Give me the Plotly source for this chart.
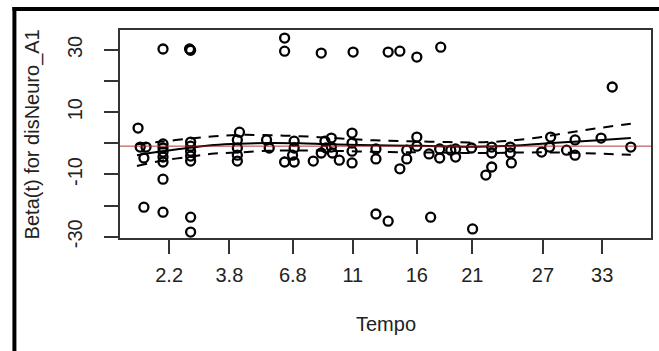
import plotly.graph_objects as go

# ---- data (x on transformed time scale 0..1, y = Beta(t)) ----
pts_x = [0.081, 0.131, 0.133, 0.310, 0.310, 0.379, 0.439, 0.505, 0.527, 0.559, 0.604, 0.927,
         0.045, 0.081, 0.081, 0.133, 0.133, 0.482, 0.505, 0.585, 0.664, 0.527, 0.689, 0.700,
         0.034, 0.038, 0.049, 0.045,
         0.081, 0.081, 0.081, 0.081, 0.081,
         0.133, 0.133, 0.133, 0.133, 0.133,
         0.225, 0.221, 0.221, 0.221, 0.221,
         0.276, 0.281,
         0.328, 0.328, 0.325, 0.310, 0.328,
         0.364, 0.379, 0.386, 0.388,
         0.398, 0.398, 0.400, 0.413,
         0.437, 0.437, 0.437, 0.437,
         0.482, 0.482, 0.540, 0.540, 0.559, 0.559, 0.582,
         0.602, 0.602, 0.623, 0.632, 0.632, 0.662,
         0.700, 0.700, 0.735, 0.735, 0.737,
         0.794, 0.811, 0.809, 0.841, 0.857, 0.857, 0.906, 0.962]
pts_y = [30.3, 30.3, 29.9, 33.8, 29.6, 29.0, 29.3, 29.3, 29.6, 27.7, 30.9, 18.1,
         -20.5, -11.5, -22.1, -23.7, -28.5, -22.7, -25.0, -23.7, -27.5, -8.2, -10.2, -7.6,
         4.9, -1.2, -1.2, -4.7,
         -0.2, -1.5, -2.8, -4.4, -6.0,
         0.4, -0.9, -2.5, -4.1, -5.7,
         3.6, 1.1, -1.5, -3.8, -5.7,
         1.1, -1.5,
         0.7, -1.5, -3.8, -6.0, -6.0,
         -5.7, -3.1, 0.7, -1.5,
         1.7, -1.2, -3.1, -5.4,
         3.3, 0.1, -2.5, -6.3,
         -1.8, -5.0, -2.2, -5.0, 2.0, -0.9, -3.4,
         -1.8, -4.7, -2.2, -1.8, -4.4, -1.5,
         -1.2, -3.1, -1.2, -3.1, -6.3,
         -2.8, 2.0, -1.2, -2.2, 1.1, -3.8, 1.7, -1.2]

curve_x = [0.032, 0.075, 0.131, 0.178, 0.225, 0.281, 0.338, 0.394, 0.450, 0.507,
           0.563, 0.619, 0.657, 0.694, 0.732, 0.788, 0.844, 0.901, 0.962]
fit_y   = [-3.8, -2.6, -1.4, -0.5, -0.1, 0.1, 0.0, -0.3, -0.5, -0.7,
           -0.8, -1.0, -1.1, -1.0, -0.8, -0.2, 0.4, 1.0, 1.7]
upper_y = [-0.3, 0.5, 1.5, 2.3, 2.7, 2.6, 2.3, 1.8, 1.2, 0.8,
           0.6, 0.4, 0.3, 0.4, 0.8, 1.9, 3.4, 4.9, 6.3]
lower_y = [-7.3, -5.7, -4.3, -3.3, -2.9, -2.4, -2.3, -2.4, -2.6, -2.8,
           -2.9, -3.0, -3.1, -3.1, -3.0, -2.9, -3.0, -3.3, -3.7]

coef = -0.9

x_tick_pos = [0.0925, 0.206, 0.3255, 0.4385, 0.559, 0.6636, 0.7964, 0.908]
x_tick_lab = ["2.2", "3.8", "6.8", "11", "16", "21", "27", "33"]
y_tick_pos = [-30, -20, -10, 0, 10, 20, 30]
y_tick_lab = ["-30", "", "-10", "", "10", "", "30"]

FONT = "Liberation Sans, Arial, Helvetica, sans-serif"
TXT = "#222222"

fig = go.Figure()
fig.add_trace(go.Scatter(x=pts_x, y=pts_y, mode="markers",
                         marker=dict(symbol="circle-open", size=9, color="black",
                                     line=dict(width=2.3, color="black")),
                         showlegend=False, hoverinfo="skip"))
fig.add_trace(go.Scatter(x=curve_x, y=fit_y, mode="lines",
                         line=dict(color="black", width=2, shape="spline"),
                         showlegend=False, hoverinfo="skip"))
for band in (upper_y, lower_y):
    fig.add_trace(go.Scatter(x=curve_x, y=band, mode="lines",
                             line=dict(color="black", width=2, dash="10px,8px", shape="spline"),
                             showlegend=False, hoverinfo="skip"))

fig.add_shape(type="line", xref="x domain", yref="y", x0=0, x1=1, y0=coef, y1=coef,
              line=dict(color="rgba(165,35,35,0.9)", width=1), layer="above")

# outer frame fragments (top and left black bars)
fig.add_shape(type="rect", xref="paper", yref="paper", x0=-0.2026, x1=1.02,
              y0=1.0913, y1=1.1106, fillcolor="black", line=dict(width=0))
fig.add_shape(type="rect", xref="paper", yref="paper", x0=-0.2026, x1=-0.1951,
              y0=-0.56, y1=1.1106, fillcolor="black", line=dict(width=0))

fig.add_annotation(text="Beta(t) for disNeuro_A1", xref="paper", yref="paper",
                   x=-0.165, y=0.5, textangle=-90, showarrow=False,
                   font=dict(family=FONT, size=20, color=TXT), xanchor="center", yanchor="middle")
fig.add_annotation(text="Tempo", xref="paper", yref="paper", x=0.5, y=-0.4135,
                   showarrow=False, font=dict(family=FONT, size=20, color=TXT),
                   xanchor="center", yanchor="middle")

fig.update_layout(
    width=659, height=351,
    margin=dict(l=120, r=6, t=30, b=113),
    paper_bgcolor="white", plot_bgcolor="white",
    font=dict(family=FONT, size=20, color=TXT),
    xaxis=dict(range=[0, 1], showgrid=False, zeroline=False,
               tickmode="array", tickvals=x_tick_pos, ticktext=x_tick_lab,
               ticks="outside", ticklen=14, tickwidth=1.5, tickcolor="#333",
               showline=True, mirror=True, linecolor="#333", linewidth=1.5,
               ticklabelstandoff=4, tickfont=dict(size=20, color=TXT)),
    yaxis=dict(range=[-30.4, 36.4], showgrid=False, zeroline=False,
               tickmode="array", tickvals=y_tick_pos, ticktext=y_tick_lab,
               ticks="outside", ticklen=14, tickwidth=1.5, tickcolor="#333",
               showline=True, mirror=True, linecolor="#333", linewidth=1.5,
               tickangle=-90, ticklabelstandoff=14, tickfont=dict(size=20, color=TXT)),
)

fig.write_html("out.html")
